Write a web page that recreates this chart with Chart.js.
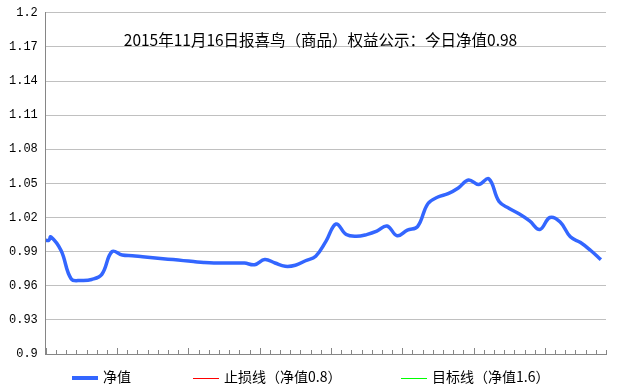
<!DOCTYPE html>
<html>
<head>
<meta charset="utf-8">
<script src="https://cdn.jsdelivr.net/npm/chart.js@4.4.0/dist/chart.umd.min.js"></script>
<style>
    html, body { margin: 0; padding: 0; background: #fff; }
    #wrap { position: relative; width: 641px; height: 389px; }
    #legend { position: absolute; left: 0; top: 368px; width: 641px; height: 16px;
              font-family: "Noto Sans CJK SC", sans-serif; font-size: 14px; color: #000; }
    .item { position: absolute; top: 0; height: 16px; line-height: 16px; white-space: nowrap; }
    .swatch { display: inline-block; width: 26px; vertical-align: middle; margin-right: 5px; }
</style>
</head>
<body>
<div id="wrap">
    <canvas id="mainChart" width="641" height="389"></canvas>
    <div id="legend"></div>
</div>
<script>
const chartTitle = "2015年11月16日报喜鸟（商品）权益公示：今日净值0.98"
const seriesNames = ["净值", "止损线（净值0.8）", "目标线（净值1.6）"]

// net value: opening entries at the axis start, then one value per day slot
const openDays = [0, 0.3]
const openValues = [1.0, 1.0]
const navValues = [
    1.003, 0.991, 0.966, 0.9647, 0.9655, 0.970, 0.990, 0.987, 0.9864, 0.9855,
    0.9847, 0.9838, 0.983, 0.9821, 0.9813, 0.9805, 0.980, 0.980, 0.980, 0.980,
    0.9785, 0.9831, 0.980, 0.9771, 0.978, 0.982, 0.986, 0.999, 1.0143, 1.005,
    1.0035, 1.005, 1.008, 1.0125, 1.004, 1.009, 1.012, 1.032, 1.038, 1.041,
    1.046, 1.053, 1.049, 1.054, 1.034, 1.028, 1.023, 1.017, 1.0095, 1.020,
    1.016, 1.003, 0.998, 0.991, 0.983
]
const stopLineValue = 0.8
const targetLineValue = 1.6

const yTickValues = [0.9, 0.93, 0.96, 0.99, 1.02, 1.05, 1.08, 1.11, 1.14, 1.17, 1.2]
const daySlots = 55
const weekTicks = 7

let axisColor = "#868686"
let gridColor = "#c0c0c0"
let seriesColors = ["#3366ff", "#ff0000", "#00ff00"]
let seriesWidths = [3.5, 1, 1]

function buildNavPoints() {
    let points = openDays.map((d, i) => ({ x: d, y: openValues[i] }))
    navValues.forEach((v, i) => {
        points.push({ x: i + 0.5, y: v })   // centre of the day slot
    })
    return points
}

function flatLine(value) {
    return [{ x: 0, y: value }, { x: daySlots, y: value }]
}

// tick marks on the x axis point up into the plot, longer every week
const innerTicks = {
    id: "innerTicks",
    afterDraw(chart) {
        const xs = chart.scales.x
        const ctx = chart.ctx
        const bottom = chart.chartArea.bottom
        ctx.save()
        ctx.strokeStyle = axisColor
        ctx.lineWidth = 1
        xs.ticks.forEach(t => {
            const px = Math.round(xs.getPixelForValue(t.value)) + 0.5
            const len = (t.value % weekTicks === 0) ? 6 : 4
            ctx.beginPath()
            ctx.moveTo(px, bottom)
            ctx.lineTo(px, bottom - len)
            ctx.stroke()
        })
        ctx.restore()
    }
}

// the title sits inside the plot area
const innerTitle = {
    id: "innerTitle",
    afterDraw(chart) {
        const ctx = chart.ctx
        ctx.save()
        ctx.font = '15.5px "Noto Sans CJK SC"'
        ctx.fillStyle = "#000"
        ctx.textAlign = "center"
        ctx.textBaseline = "middle"
        ctx.fillText(chartTitle, chart.width / 2, chart.chartArea.top + 27)
        ctx.restore()
    }
}

function buildLegend(chart) {
    const box = document.getElementById("legend")
    const lefts = [72, 193, 401]
    chart.data.datasets.forEach((ds, i) => {
        const item = document.createElement("div")
        item.className = "item"
        item.style.left = lefts[i] + "px"
        const sw = document.createElement("span")
        sw.className = "swatch"
        sw.style.height = Math.round(ds.borderWidth) + "px"
        sw.style.background = ds.borderColor
        item.appendChild(sw)
        item.appendChild(document.createTextNode(ds.label))
        box.appendChild(item)
    })
}

const ctx = document.getElementById("mainChart").getContext("2d")
const chart = new Chart(ctx, {
    type: "line",
    data: {
        datasets: [
            {
                label: seriesNames[0],
                data: buildNavPoints(),
                borderColor: seriesColors[0],
                borderWidth: seriesWidths[0],
                pointRadius: 0,
                tension: 0.4,
                fill: false,
                order: 0
            },
            {
                label: seriesNames[1],
                data: flatLine(stopLineValue),
                borderColor: seriesColors[1],
                borderWidth: seriesWidths[1],
                pointRadius: 0,
                fill: false,
                order: 1
            },
            {
                label: seriesNames[2],
                data: flatLine(targetLineValue),
                borderColor: seriesColors[2],
                borderWidth: seriesWidths[2],
                pointRadius: 0,
                fill: false,
                order: 2
            }
        ]
    },
    options: {
        responsive: false,
        animation: false,
        layout: { padding: { top: 5, left: 1, right: 35, bottom: 35 } },
        plugins: {
            legend: { display: false },
            title: { display: false },
            tooltip: { enabled: false }
        },
        scales: {
            x: {
                type: "linear",
                min: 0,
                max: daySlots,
                ticks: { display: false, stepSize: 1 },
                grid: { drawOnChartArea: false, drawTicks: false },
                border: { color: axisColor }
            },
            y: {
                min: 0.9,
                max: 1.2,
                afterBuildTicks: scale => {
                    scale.ticks = yTickValues.map(v => ({ value: v }))
                },
                ticks: {
                    callback: v => String(v),
                    color: "#000",
                    padding: 8,
                    font: { family: "Liberation Mono", size: 12, lineHeight: 0.8 }
                },
                grid: { color: gridColor, drawTicks: false },
                border: { color: axisColor }
            }
        }
    },
    plugins: [innerTicks, innerTitle]
})
buildLegend(chart)
</script>
</body>
</html>
